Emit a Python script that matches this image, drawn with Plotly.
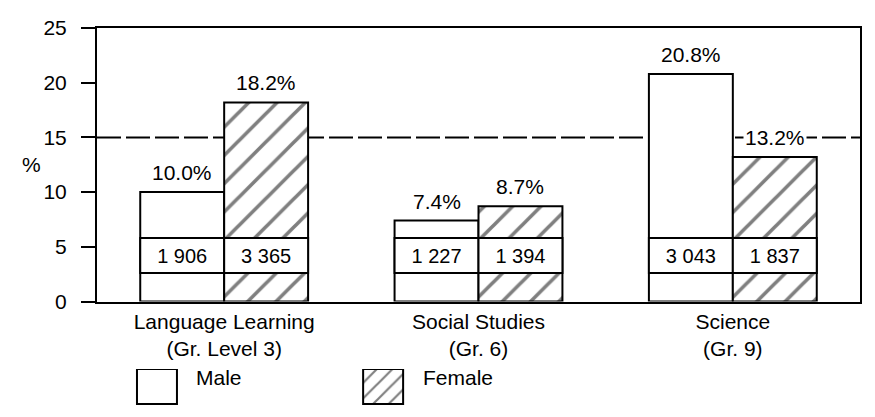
import plotly.graph_objects as go

# data
categories = ["Language Learning<br>(Gr. Level 3)", "Social Studies<br>(Gr. 6)", "Science<br>(Gr. 9)"]
male_pct = [10.0, 7.4, 20.8]
female_pct = [18.2, 8.7, 13.2]
male_n = ["1 906", "1 227", "3 043"]
female_n = ["3 365", "1 394", "1 837"]
reference_line = 15
y_ticks = [0, 5, 10, 15, 20, 25]

FONT = "Liberation Sans, Arial, sans-serif"
BAR_W = 0.33
BOX_BASE = 2.6
BOX_H = 3.2
FS = 21

xs = list(range(len(categories)))

fig = go.Figure()

# main bars
fig.add_trace(go.Bar(
    x=xs, y=male_pct, width=BAR_W, offset=-BAR_W, name="Male",
    marker=dict(color="white", line=dict(color="black", width=2)),
    showlegend=False,
))
fig.add_trace(go.Bar(
    x=xs, y=female_pct, width=BAR_W, offset=0, name="Female",
    marker=dict(color="white", line=dict(color="black", width=2),
                pattern=dict(shape="/", fgcolor="black", bgcolor="white", size=20, solidity=0.18)),
    showlegend=False,
))

# count boxes inside the bars
fig.add_trace(go.Bar(
    x=xs, y=[BOX_H] * len(xs), base=BOX_BASE, width=BAR_W, offset=-BAR_W,
    text=male_n, textposition="inside", insidetextanchor="middle",
    textfont=dict(color="black", size=20, family=FONT), textangle=0,
    marker=dict(color="white", line=dict(color="black", width=2)),
    showlegend=False, hoverinfo="skip",
))
fig.add_trace(go.Bar(
    x=xs, y=[BOX_H] * len(xs), base=BOX_BASE, width=BAR_W, offset=0,
    text=female_n, textposition="inside", insidetextanchor="middle",
    textfont=dict(color="black", size=20, family=FONT), textangle=0,
    marker=dict(color="white", line=dict(color="black", width=2)),
    showlegend=False, hoverinfo="skip",
))

# legend swatches on a hidden axis below the chart
fig.add_trace(go.Bar(
    x=[0.0786], y=[1], width=0.0524, xaxis="x2", yaxis="y2",
    marker=dict(color="white", line=dict(color="black", width=2)),
    showlegend=False, hoverinfo="skip",
))
fig.add_trace(go.Bar(
    x=[0.375], y=[1], width=0.0524, xaxis="x2", yaxis="y2",
    marker=dict(color="white", line=dict(color="black", width=2),
                pattern=dict(shape="/", fgcolor="black", bgcolor="white", size=11, solidity=0.2)),
    showlegend=False, hoverinfo="skip",
))

annotations = []
for i in xs:
    for val, off in ((male_pct[i], -BAR_W / 2), (female_pct[i], BAR_W / 2)):
        annotations.append(dict(
            x=i + off, y=val, xref="x", yref="y", text=f"{val:.1f}%",
            showarrow=False, yanchor="bottom", yshift=6, bgcolor="white",
            font=dict(size=FS, color="black", family=FONT),
        ))

annotations += [
    dict(x=-0.101, y=12.5, xref="paper", yref="y", text="%", showarrow=False,
         font=dict(size=FS, color="black", family=FONT)),
    dict(x=0.127, y=0.075, xref="paper", yref="paper", text="Male", showarrow=False,
         xanchor="left", yanchor="middle", font=dict(size=FS, color="black", family=FONT)),
    dict(x=0.424, y=0.075, xref="paper", yref="paper", text="Female", showarrow=False,
         xanchor="left", yanchor="middle", font=dict(size=FS, color="black", family=FONT)),
]

# the page body has an 8px margin, so margins are shifted to compensate
fig.update_layout(
    width=875, height=417,
    margin=dict(l=89, r=23, t=11, b=8),
    plot_bgcolor="white", paper_bgcolor="white",
    barmode="overlay",
    font=dict(family=FONT, size=FS, color="black"),
    annotations=annotations,
    shapes=[dict(
        type="line", xref="paper", x0=0, x1=1, yref="y", y0=reference_line, y1=reference_line,
        layer="below", line=dict(color="black", width=2, dash="24px,5px"),
    )],
    xaxis=dict(
        domain=[0, 1], range=[-0.5, 2.5], tickvals=xs, ticktext=categories,
        showline=True, linecolor="black", linewidth=2, mirror=True,
        ticks="", showgrid=False, zeroline=False, anchor="y",
        tickfont=dict(size=FS, color="black"),
    ),
    yaxis=dict(
        domain=[0.2764, 1], range=[0, 25], tickvals=y_ticks,
        showline=True, linecolor="black", linewidth=2, mirror=True,
        ticks="outside", ticklen=14, tickwidth=2, tickcolor="black",
        showgrid=False, zeroline=False, anchor="x", ticklabeloverflow="allow",
        tickfont=dict(size=FS, color="black"), ticklabelstandoff=10,
    ),
    xaxis2=dict(domain=[0, 1], range=[0, 1], visible=False, anchor="y2"),
    yaxis2=dict(domain=[0, 0.098], range=[-0.06, 1], visible=False, anchor="x2"),
)

fig.write_html("out.html")
